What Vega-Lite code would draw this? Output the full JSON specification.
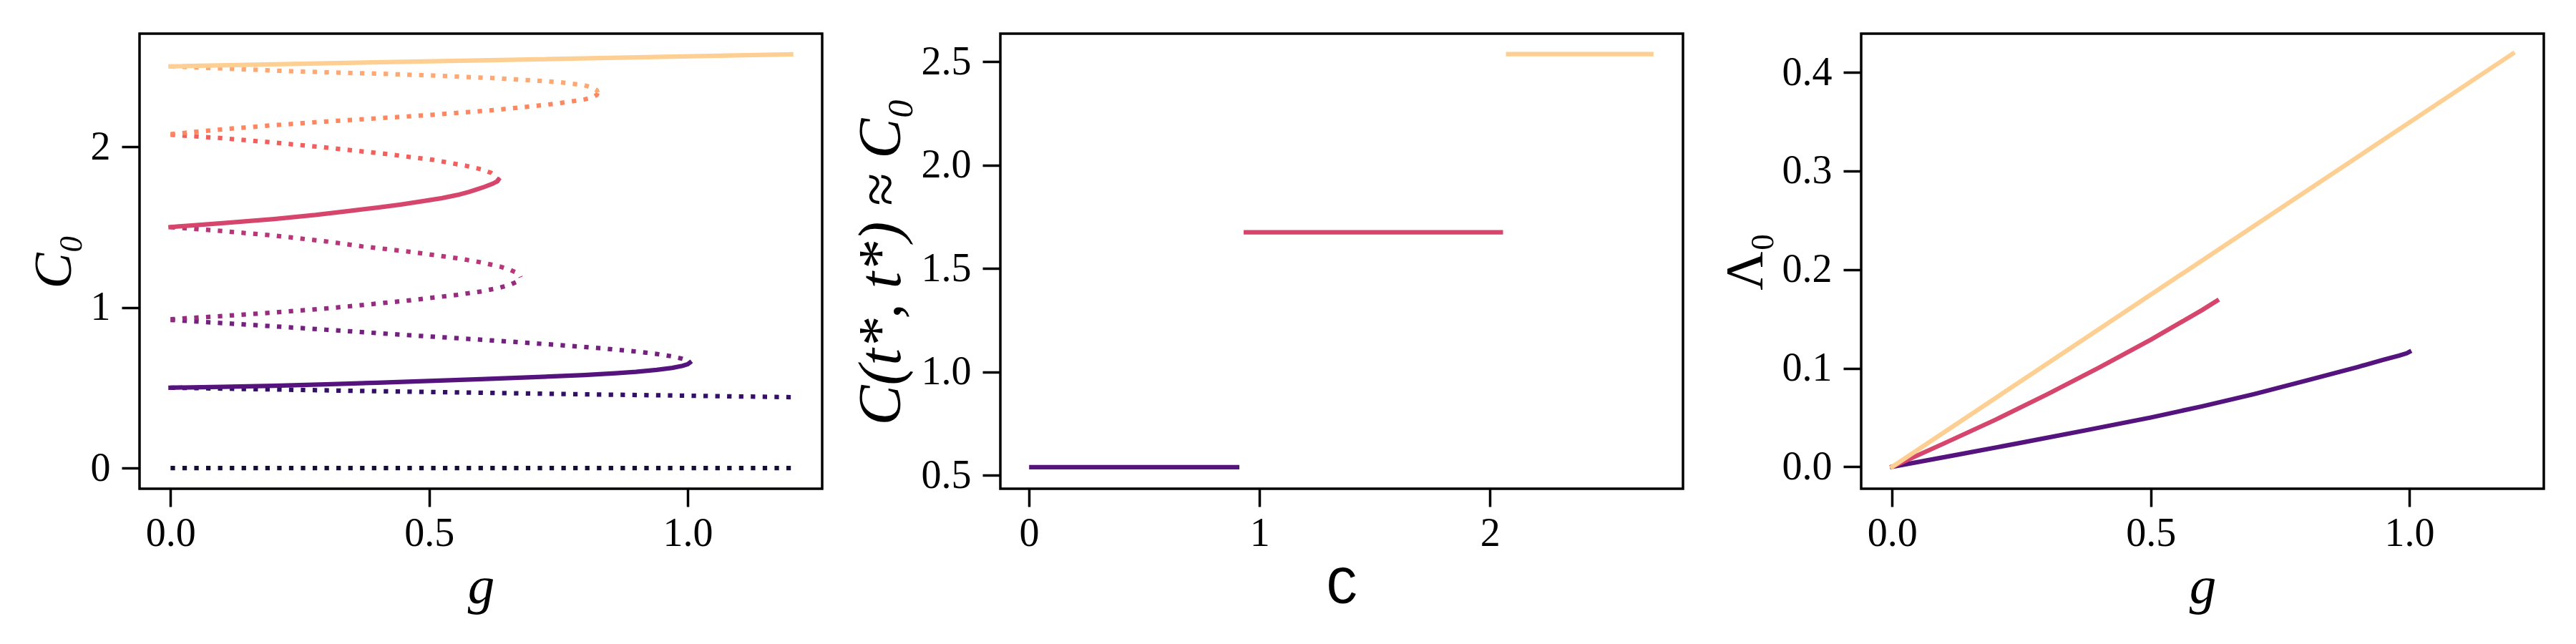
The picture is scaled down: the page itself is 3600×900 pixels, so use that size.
{
  "$schema": "https://vega.github.io/schema/vega-lite/v6.json",
  "background": "white",
  "padding": {"left": 36, "top": 45, "right": 45, "bottom": 5},
  "spacing": 249,
  "bounds": "flush",
  "datasets": {
    "bif": [
      {"seg": "s0", "kind": "u", "g": 0, "C": 0}, {"seg": "s0", "kind": "u", "g": 1.2, "C": 0},
      {"seg": "s1", "kind": "u", "g": 0, "C": 0.5}, {"seg": "s1", "kind": "u", "g": 0.25, "C": 0.486}, {"seg": "s1", "kind": "u", "g": 0.5, "C": 0.473}, {"seg": "s1", "kind": "u", "g": 0.75, "C": 0.461}, {"seg": "s1", "kind": "u", "g": 1.0, "C": 0.45}, {"seg": "s1", "kind": "u", "g": 1.2, "C": 0.441},
      {"seg": "s2", "kind": "s", "g": 0, "C": 0.5}, {"seg": "s2", "kind": "s", "g": 0.1, "C": 0.5055}, {"seg": "s2", "kind": "s", "g": 0.2, "C": 0.512}, {"seg": "s2", "kind": "s", "g": 0.3, "C": 0.521}, {"seg": "s2", "kind": "s", "g": 0.4, "C": 0.531}, {"seg": "s2", "kind": "s", "g": 0.5, "C": 0.542}, {"seg": "s2", "kind": "s", "g": 0.6, "C": 0.553}, {"seg": "s2", "kind": "s", "g": 0.7, "C": 0.565}, {"seg": "s2", "kind": "s", "g": 0.8, "C": 0.579}, {"seg": "s2", "kind": "s", "g": 0.86, "C": 0.59}, {"seg": "s2", "kind": "s", "g": 0.9, "C": 0.599}, {"seg": "s2", "kind": "s", "g": 0.94, "C": 0.611}, {"seg": "s2", "kind": "s", "g": 0.97, "C": 0.623}, {"seg": "s2", "kind": "s", "g": 0.99, "C": 0.636}, {"seg": "s2", "kind": "s", "g": 1.0, "C": 0.646}, {"seg": "s2", "kind": "s", "g": 1.004, "C": 0.656},
      {"seg": "s3", "kind": "u", "g": 0, "C": 0.922}, {"seg": "s3", "kind": "u", "g": 0.1, "C": 0.902}, {"seg": "s3", "kind": "u", "g": 0.2, "C": 0.882}, {"seg": "s3", "kind": "u", "g": 0.3, "C": 0.861}, {"seg": "s3", "kind": "u", "g": 0.37, "C": 0.846}, {"seg": "s3", "kind": "u", "g": 0.45, "C": 0.829}, {"seg": "s3", "kind": "u", "g": 0.556, "C": 0.808}, {"seg": "s3", "kind": "u", "g": 0.66, "C": 0.786}, {"seg": "s3", "kind": "u", "g": 0.774, "C": 0.76}, {"seg": "s3", "kind": "u", "g": 0.836, "C": 0.744}, {"seg": "s3", "kind": "u", "g": 0.9, "C": 0.725}, {"seg": "s3", "kind": "u", "g": 0.942, "C": 0.709}, {"seg": "s3", "kind": "u", "g": 0.97, "C": 0.695}, {"seg": "s3", "kind": "u", "g": 0.99, "C": 0.68}, {"seg": "s3", "kind": "u", "g": 1.0, "C": 0.668}, {"seg": "s3", "kind": "u", "g": 1.004, "C": 0.656},
      {"seg": "s4", "kind": "u", "g": 0, "C": 0.926}, {"seg": "s4", "kind": "u", "g": 0.1, "C": 0.946}, {"seg": "s4", "kind": "u", "g": 0.2, "C": 0.968}, {"seg": "s4", "kind": "u", "g": 0.3, "C": 0.993}, {"seg": "s4", "kind": "u", "g": 0.37, "C": 1.014}, {"seg": "s4", "kind": "u", "g": 0.464, "C": 1.044}, {"seg": "s4", "kind": "u", "g": 0.554, "C": 1.078}, {"seg": "s4", "kind": "u", "g": 0.6, "C": 1.099}, {"seg": "s4", "kind": "u", "g": 0.637, "C": 1.123}, {"seg": "s4", "kind": "u", "g": 0.658, "C": 1.143}, {"seg": "s4", "kind": "u", "g": 0.67, "C": 1.16}, {"seg": "s4", "kind": "u", "g": 0.675, "C": 1.173}, {"seg": "s4", "kind": "u", "g": 0.677, "C": 1.187},
      {"seg": "s5", "kind": "u", "g": 0, "C": 1.5}, {"seg": "s5", "kind": "u", "g": 0.1, "C": 1.475}, {"seg": "s5", "kind": "u", "g": 0.2, "C": 1.447}, {"seg": "s5", "kind": "u", "g": 0.3, "C": 1.411}, {"seg": "s5", "kind": "u", "g": 0.37, "C": 1.38}, {"seg": "s5", "kind": "u", "g": 0.463, "C": 1.346}, {"seg": "s5", "kind": "u", "g": 0.554, "C": 1.306}, {"seg": "s5", "kind": "u", "g": 0.599, "C": 1.281}, {"seg": "s5", "kind": "u", "g": 0.637, "C": 1.254}, {"seg": "s5", "kind": "u", "g": 0.658, "C": 1.232}, {"seg": "s5", "kind": "u", "g": 0.67, "C": 1.214}, {"seg": "s5", "kind": "u", "g": 0.675, "C": 1.201}, {"seg": "s5", "kind": "u", "g": 0.677, "C": 1.187},
      {"seg": "s6", "kind": "s", "g": 0, "C": 1.5}, {"seg": "s6", "kind": "s", "g": 0.1, "C": 1.524}, {"seg": "s6", "kind": "s", "g": 0.2, "C": 1.55}, {"seg": "s6", "kind": "s", "g": 0.28, "C": 1.575}, {"seg": "s6", "kind": "s", "g": 0.345, "C": 1.6}, {"seg": "s6", "kind": "s", "g": 0.4, "C": 1.621}, {"seg": "s6", "kind": "s", "g": 0.445, "C": 1.64}, {"seg": "s6", "kind": "s", "g": 0.49, "C": 1.662}, {"seg": "s6", "kind": "s", "g": 0.525, "C": 1.68}, {"seg": "s6", "kind": "s", "g": 0.555, "C": 1.7}, {"seg": "s6", "kind": "s", "g": 0.578, "C": 1.72}, {"seg": "s6", "kind": "s", "g": 0.594, "C": 1.736}, {"seg": "s6", "kind": "s", "g": 0.607, "C": 1.75}, {"seg": "s6", "kind": "s", "g": 0.623, "C": 1.77}, {"seg": "s6", "kind": "s", "g": 0.632, "C": 1.785}, {"seg": "s6", "kind": "s", "g": 0.634, "C": 1.795},
      {"seg": "s7", "kind": "u", "g": 0, "C": 2.075}, {"seg": "s7", "kind": "u", "g": 0.1, "C": 2.053}, {"seg": "s7", "kind": "u", "g": 0.2, "C": 2.026}, {"seg": "s7", "kind": "u", "g": 0.3, "C": 1.995}, {"seg": "s7", "kind": "u", "g": 0.411, "C": 1.957}, {"seg": "s7", "kind": "u", "g": 0.508, "C": 1.918}, {"seg": "s7", "kind": "u", "g": 0.57, "C": 1.882}, {"seg": "s7", "kind": "u", "g": 0.6, "C": 1.86}, {"seg": "s7", "kind": "u", "g": 0.62, "C": 1.837}, {"seg": "s7", "kind": "u", "g": 0.63, "C": 1.815}, {"seg": "s7", "kind": "u", "g": 0.634, "C": 1.795},
      {"seg": "s8", "kind": "u", "g": 0, "C": 2.078}, {"seg": "s8", "kind": "u", "g": 0.1, "C": 2.108}, {"seg": "s8", "kind": "u", "g": 0.2, "C": 2.134}, {"seg": "s8", "kind": "u", "g": 0.3, "C": 2.157}, {"seg": "s8", "kind": "u", "g": 0.411, "C": 2.179}, {"seg": "s8", "kind": "u", "g": 0.508, "C": 2.199}, {"seg": "s8", "kind": "u", "g": 0.624, "C": 2.228}, {"seg": "s8", "kind": "u", "g": 0.7, "C": 2.252}, {"seg": "s8", "kind": "u", "g": 0.75, "C": 2.27}, {"seg": "s8", "kind": "u", "g": 0.8, "C": 2.294}, {"seg": "s8", "kind": "u", "g": 0.815, "C": 2.306}, {"seg": "s8", "kind": "u", "g": 0.824, "C": 2.322}, {"seg": "s8", "kind": "u", "g": 0.826, "C": 2.337},
      {"seg": "s9", "kind": "u", "g": 0, "C": 2.5}, {"seg": "s9", "kind": "u", "g": 0.1, "C": 2.487}, {"seg": "s9", "kind": "u", "g": 0.2, "C": 2.474}, {"seg": "s9", "kind": "u", "g": 0.3, "C": 2.463}, {"seg": "s9", "kind": "u", "g": 0.4, "C": 2.455}, {"seg": "s9", "kind": "u", "g": 0.508, "C": 2.443}, {"seg": "s9", "kind": "u", "g": 0.624, "C": 2.427}, {"seg": "s9", "kind": "u", "g": 0.7, "C": 2.413}, {"seg": "s9", "kind": "u", "g": 0.75, "C": 2.402}, {"seg": "s9", "kind": "u", "g": 0.8, "C": 2.383}, {"seg": "s9", "kind": "u", "g": 0.815, "C": 2.368}, {"seg": "s9", "kind": "u", "g": 0.824, "C": 2.352}, {"seg": "s9", "kind": "u", "g": 0.826, "C": 2.337},
      {"seg": "s10", "kind": "s", "g": 0, "C": 2.5}, {"seg": "s10", "kind": "s", "g": 0.6, "C": 2.538}, {"seg": "s10", "kind": "s", "g": 1.2, "C": 2.575}
    ],
    "plateau": [
      {"seg": "s2", "c": 0.01, "C": 0.54}, {"seg": "s2", "c": 0.903, "C": 0.54},
      {"seg": "s6", "c": 0.941, "C": 1.676}, {"seg": "s6", "c": 2.047, "C": 1.676},
      {"seg": "s10", "c": 2.079, "C": 2.537}, {"seg": "s10", "c": 2.7, "C": 2.537}
    ],
    "lam": [
      {"seg": "s2", "g": 0, "L": 0}, {"seg": "s2", "g": 0.125, "L": 0.0122}, {"seg": "s2", "g": 0.25, "L": 0.0245}, {"seg": "s2", "g": 0.375, "L": 0.0371}, {"seg": "s2", "g": 0.5, "L": 0.05}, {"seg": "s2", "g": 0.6, "L": 0.0614}, {"seg": "s2", "g": 0.7, "L": 0.0738}, {"seg": "s2", "g": 0.8, "L": 0.0873}, {"seg": "s2", "g": 0.9, "L": 0.1012}, {"seg": "s2", "g": 0.95, "L": 0.1086}, {"seg": "s2", "g": 0.98, "L": 0.1128}, {"seg": "s2", "g": 0.995, "L": 0.1152}, {"seg": "s2", "g": 1.0, "L": 0.1166},
      {"seg": "s6", "g": 0, "L": 0}, {"seg": "s6", "g": 0.1, "L": 0.0237}, {"seg": "s6", "g": 0.2, "L": 0.0478}, {"seg": "s6", "g": 0.3, "L": 0.0736}, {"seg": "s6", "g": 0.4, "L": 0.1006}, {"seg": "s6", "g": 0.5, "L": 0.1289}, {"seg": "s6", "g": 0.6, "L": 0.1592}, {"seg": "s6", "g": 0.628, "L": 0.1684},
      {"seg": "s10", "g": 0, "L": 0}, {"seg": "s10", "g": 1.2, "L": 0.419}
    ]
  },
  "hconcat": [
    {
      "width": 954, "height": 636,
      "data": {"name": "bif"},
      "encoding": {
        "x": {"field": "g", "type": "quantitative", "scale": {"domain": [-0.06, 1.26], "nice": false, "zero": false},
              "axis": {"title": "g", "titleFontStyle": "italic", "values": [0, 0.5, 1.0], "format": ".1f"}},
        "y": {"field": "C", "type": "quantitative", "scale": {"domain": [-0.129, 2.704], "nice": false, "zero": false},
              "axis": {"title": "C₀", "titleFontStyle": "italic", "values": [0, 1, 2], "format": "d"}},
        "color": {"field": "seg", "type": "nominal", "legend": null,
                  "scale": {"domain": ["s0","s1","s2","s3","s4","s5","s6","s7","s8","s9","s10"],
                            "range": ["#140e36","#331067","#55137d","#751f81","#962c80","#b73779","#d6456c","#f1605d","#fc8761","#fea873","#fecf92"]}}
      },
      "layer": [
        {"transform": [{"filter": "datum.kind == 'u'"}],
         "mark": {"type": "line", "strokeWidth": 6.25, "strokeDash": [6.25, 10.3], "strokeCap": "butt"}},
        {"transform": [{"filter": "datum.kind == 's'"}],
         "mark": {"type": "line", "strokeWidth": 6.25, "strokeCap": "square"}}
      ]
    },
    {
      "width": 954, "height": 636,
      "data": {"name": "plateau"},
      "mark": {"type": "line", "strokeWidth": 6.25, "strokeCap": "square"},
      "encoding": {
        "x": {"field": "c", "type": "quantitative", "scale": {"domain": [-0.1245, 2.8375], "nice": false, "zero": false},
              "axis": {"title": "C", "titleFont": "Liberation Mono", "values": [0, 1, 2], "format": "d"}},
        "y": {"field": "C", "type": "quantitative", "scale": {"domain": [0.436, 2.636], "nice": false, "zero": false},
              "axis": {"title": "C(t*, t*) ≈ C₀", "titleFontStyle": "italic", "titleFontSize": 84, "values": [0.5, 1.0, 1.5, 2.0, 2.5], "format": ".1f"}},
        "color": {"field": "seg", "type": "nominal", "legend": null,
                  "scale": {"domain": ["s0","s1","s2","s3","s4","s5","s6","s7","s8","s9","s10"],
                            "range": ["#140e36","#331067","#55137d","#751f81","#962c80","#b73779","#d6456c","#f1605d","#fc8761","#fea873","#fecf92"]}}
      }
    },
    {
      "width": 954, "height": 636,
      "data": {"name": "lam"},
      "mark": {"type": "line", "strokeWidth": 6.25, "strokeCap": "square"},
      "encoding": {
        "x": {"field": "g", "type": "quantitative", "scale": {"domain": [-0.06, 1.26], "nice": false, "zero": false},
              "axis": {"title": "g", "titleFontStyle": "italic", "values": [0, 0.5, 1.0], "format": ".1f"}},
        "y": {"field": "L", "type": "quantitative", "scale": {"domain": [-0.0222, 0.4393], "nice": false, "zero": false},
              "axis": {"title": "Λ₀", "values": [0, 0.1, 0.2, 0.3, 0.4], "format": ".1f"}},
        "color": {"field": "seg", "type": "nominal", "legend": null,
                  "scale": {"domain": ["s0","s1","s2","s3","s4","s5","s6","s7","s8","s9","s10"],
                            "range": ["#140e36","#331067","#55137d","#751f81","#962c80","#b73779","#d6456c","#f1605d","#fc8761","#fea873","#fecf92"]}}
      }
    }
  ],
  "config": {
    "view": {"stroke": "black", "strokeWidth": 3.5, "fill": "white"},
    "axis": {
      "domain": false, "grid": false, "ticks": true, "tickColor": "black", "tickWidth": 3.5, "tickSize": 25,
      "labelFont": "Liberation Serif", "labelFontSize": 56, "labelColor": "black", "labelFlush": false, "labelOverlap": false,
      "titleFont": "Liberation Serif", "titleFontSize": 75, "titleFontWeight": "normal", "titleColor": "black"
    },
    "axisX": {"labelPadding": 10, "titlePadding": 10},
    "axisY": {"labelPadding": 16, "titlePadding": 12}
  }
}
